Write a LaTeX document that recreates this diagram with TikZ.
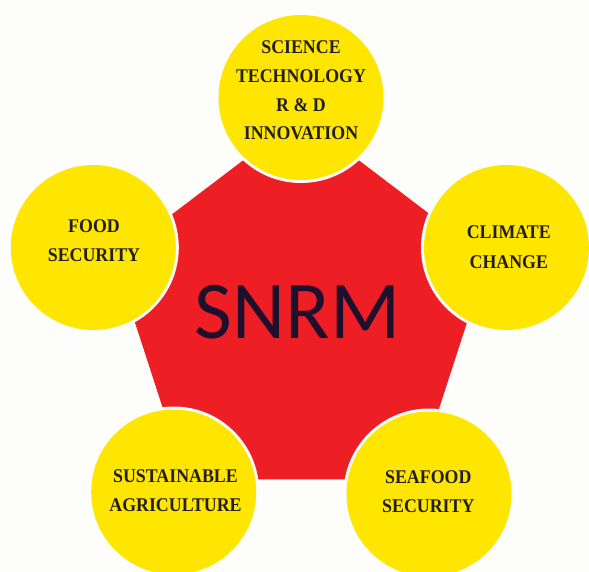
\documentclass[tikz,border=0pt]{standalone}
\usepackage{fontspec}
\setmainfont{Liberation Serif}
\newfontfamily\snrmfont{Carlito}
\definecolor{bgc}{RGB}{253,253,251}
\definecolor{redc}{RGB}{237,30,36}
\definecolor{yelc}{RGB}{255,230,0}
\definecolor{txtc}{RGB}{35,31,32}
\definecolor{snrmc}{RGB}{30,15,45}
\tikzset{
  bubble/.style={fill=yelc, draw=none},
  gapring/.style={fill=bgc, draw=none},
  lbl/.style={anchor=base, inner sep=0pt, text=txtc,
    font=\addfontfeature{FakeStretch=0.92}\fontsize{19.4}{20}\selectfont\bfseries},
}
\begin{document}
\begin{tikzpicture}[x=1pt,y=-1pt]
\useasboundingbox (0,0) rectangle (589,572);
\fill[bgc] (0,0) rectangle (589,572);
% central red decagon
\fill[redc] (467.5,321) -- (435.7,218.7) -- (352.5,155.5) -- (249.5,155.5)
  -- (166.3,218.7) -- (134.5,321) -- (166.3,418.9) -- (249.5,479.4)
  -- (352.5,479.4) -- (435.7,418.9) -- cycle;
\node[anchor=base, inner sep=0pt, text=snrmc, font=\snrmfont\fontsize{82}{82}\selectfont] (snrm) at (297.5,338) {SNRM};
% gaps and bubbles
\foreach \n/\cx/\cy in {top/301/97.5, left/93.3/247.5, right/506.5/247.5, bl/173.7/492, br/429/494}{
  \fill[gapring] (\cx,\cy) circle[radius=85.5pt];
  \fill[bubble] (\cx,\cy) circle[radius=82.5pt];
  \coordinate (c\n) at (\cx,\cy);
}
% labels
\node[lbl] (t1) at (301,53.3) {SCIENCE};
\node[lbl] (t2) at (301,82.2) {TECHNOLOGY};
\node[lbl] (t3) at (301,111.1) {R \& D};
\node[lbl] (t4) at (301,140) {INNOVATION};
\node[lbl] (f1) at (94,232.7) {FOOD};
\node[lbl] (f2) at (94,261.7) {SECURITY};
\node[lbl] (c1) at (508.8,239) {CLIMATE};
\node[lbl] (c2) at (508.8,269) {CHANGE};
\node[lbl] (s1) at (175.5,482.3) {SUSTAINABLE};
\node[lbl] (s2) at (175.5,511) {AGRICULTURE};
\node[lbl] (e1) at (428.3,483.3) {SEAFOOD};
\node[lbl] (e2) at (428.3,512.7) {SECURITY};
\end{tikzpicture}
\end{document}
